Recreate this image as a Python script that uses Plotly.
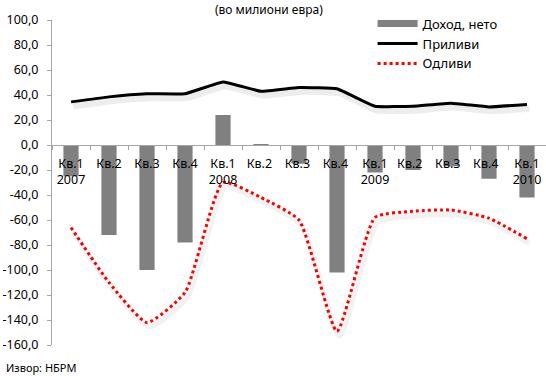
import plotly.graph_objects as go

quarters = ["Кв.1<br>2007", "Кв.2", "Кв.3", "Кв.4",
            "Кв.1<br>2008", "Кв.2 ", "Кв.3 ", "Кв.4 ",
            "Кв.1<br>2009", "Кв.2  ", "Кв.3  ", "Кв.4  ",
            "Кв.1<br>2010"]
income_net = [-25, -72, -100, -78, 24, 0.5, -15, -102, -22, -20, -17, -27, -42]
inflows = [34.5, 38.5, 41, 41, 50.5, 43, 46, 45, 31, 31, 33.5, 30.5, 32.5]
outflows = [-66, -110, -142, -118, -30, -42, -60, -149, -58, -53, -52, -58.5, -75]

ytick_vals = [100, 80, 60, 40, 20, 0, -20, -40, -60, -80, -100, -120, -140, -160]
ytick_text = ["100,0", "80,0", "60,0", "40,0", "20,0", "0,0", "-20,0", "-40,0",
              "-60,0", "-80,0", "-100,0", "-120,0", "-140,0", "-160,0"]

FONT = "Noto Sans"
fig = go.Figure()

# soft shadows (drawn on slightly offset overlay axes)
fig.add_trace(go.Scatter(x=quarters, y=inflows, mode="lines", xaxis="x2", yaxis="y2",
                         line=dict(color="rgba(0,0,0,0.07)", width=6, shape="spline", smoothing=0.3),
                         showlegend=False, hoverinfo="skip"))
fig.add_trace(go.Scatter(x=quarters, y=outflows, mode="lines", xaxis="x2", yaxis="y2",
                         line=dict(color="rgba(0,0,0,0.05)", width=6, shape="spline", smoothing=0.5),
                         showlegend=False, hoverinfo="skip"))

fig.add_trace(go.Bar(x=quarters, y=income_net, name="Доход, нето",
                     marker=dict(color="#808080", line=dict(width=0)), showlegend=False))
# legend proxy for bar (wide rectangle like the original)
fig.add_trace(go.Scatter(x=[None], y=[None], mode="lines", name="Доход, нето",
                         line=dict(color="#808080", width=7)))
fig.add_trace(go.Scatter(x=quarters, y=inflows, mode="lines", name="Приливи",
                         line=dict(color="#000000", width=3, shape="spline", smoothing=0.3)))
fig.add_trace(go.Scatter(x=quarters, y=outflows, mode="lines", name="Одливи",
                         line=dict(color="#FF0000", width=3, dash="dot", shape="spline", smoothing=0.5)))

yr = [-160, 100]
fig.update_layout(
    width=546, height=376,
    margin=dict(l=52, r=0, t=20, b=31, autoexpand=False),
    paper_bgcolor="white", plot_bgcolor="white",
    font=dict(family=FONT, size=12, color="#000000"),
    bargap=0.6,
    showlegend=True,
    legend=dict(x=0.649, y=1.035, xanchor="left", yanchor="top",
                bgcolor="rgba(0,0,0,0)", font=dict(size=13, family=FONT),
                tracegroupgap=0, itemwidth=40),
    xaxis=dict(type="category", anchor="free", position=160 / 260,
               showline=True, linecolor="#A6A6A6", linewidth=1,
               ticks="outside", ticklen=4, tickcolor="#A6A6A6", tickson="boundaries",
               tickangle=0, ticklabelstandoff=7, showgrid=False, zeroline=False,
               tickfont=dict(size=12.5, family=FONT), range=[-0.5, 12.5]),
    yaxis=dict(range=yr, tickvals=ytick_vals, ticktext=ytick_text,
               showline=True, linecolor="#A6A6A6", linewidth=1,
               ticks="outside", ticklen=4, tickcolor="#A6A6A6", ticklabelstandoff=6,
               showgrid=False, zeroline=False, tickfont=dict(size=12.5, family=FONT)),
    xaxis2=dict(type="category", overlaying="x", range=[-0.5 - 0.06, 12.5 - 0.06],
                visible=False),
    yaxis2=dict(overlaying="y", range=[yr[0] + 3.5, yr[1] + 3.5], visible=False),
)

fig.add_annotation(text="(во милиони евра)", xref="paper", yref="paper",
                   x=0.44, y=1.0, yshift=21, showarrow=False, xanchor="center", yanchor="top",
                   font=dict(size=12, family=FONT))
fig.add_annotation(text="Извор: НБРМ", xref="paper", yref="paper",
                   x=0, xshift=-48, y=0, yshift=-13, showarrow=False, xanchor="left", yanchor="top",
                   font=dict(size=11, family=FONT))

fig.write_html("out.html", config={"displayModeBar": False},
               post_script="document.body.style.margin='0';")
